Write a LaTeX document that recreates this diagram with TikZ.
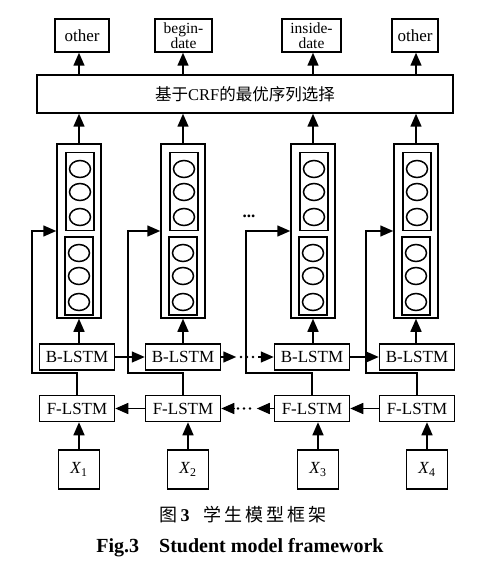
\documentclass[tikz,border=0pt]{standalone}
\usepackage{fontspec}
\setmainfont{Liberation Serif}
\newfontfamily\cjk{Noto Sans CJK SC}
\usetikzlibrary{arrows.meta}

\begin{document}
\begin{tikzpicture}[x=1pt,y=-1pt,
	every node/.style={font=\fontsize{17}{13}\selectfont},
	box/.style={draw,line width=1.5pt,inner sep=0pt,align=center},
	lstmbox/.style={box,minimum width=75pt,minimum height=26pt},
	stackbox/.style={box,minimum width=44pt,minimum height=174pt},
	halfbox/.style={box,minimum width=28pt,minimum height=78pt},
	outbox/.style={box,minimum height=33pt},
	twoline/.style={outbox,font=\fontsize{15.5}{14.5}\selectfont},
	inbox/.style={box,minimum width=41pt,minimum height=39pt},
	ln/.style={line width=1.5pt},
	dotline/.style={line width=2.6pt,line cap=round,dash pattern=on 0pt off 6pt},
	arr/.style={ln,-{Triangle[length=13pt,width=11pt]}}]
		\useasboundingbox (0,0) rectangle (499,572);
		% output labels and the CRF layer
		\node[outbox,minimum width=54pt] (o1) at (82,35.5) {other};
		\node[twoline,minimum width=57pt] (o2) at (183.5,35.5) {begin-\\date};
		\node[twoline,minimum width=59pt] (o3) at (311.5,35.5) {inside-\\date};
		\node[outbox,minimum width=46pt] (o4) at (415,35.5) {other};
		\node[box,minimum width=416pt,minimum height=38pt,font=\fontsize{16.5}{18}\selectfont] (crf) at (245,94) {{\cjk 基于}CRF{\cjk 的最优序列选择}};
		% one column per input
		\foreach \i/\sx/\bx/\xx/\fb in {1/79/77/79/32,2/183/183/188/128,3/313/312/318/246,4/416/417/427/366}{
			\node[stackbox] (s\i) at (\sx,231) {};
			\node[halfbox] (u\i) at (\sx+1,191.5) {};
			\node[halfbox] (l\i) at (\sx,276) {};
			\foreach \cy in {169,192,217} \draw[ln] (\sx+1,\cy) ellipse (10.5 and 8.5);
			\foreach \cy in {253,276,302} \draw[ln] (\sx,\cy) ellipse (10.5 and 8.5);
			\node[lstmbox] (b\i) at (\bx,357) {B-LSTM};
			\node[lstmbox] (f\i) at (\bx,408.5) {F-LSTM};
			\node[inbox] (x\i) at (\xx,469.5) {\textit{X}\textsubscript{\i}};
			\draw[arr] (x\i.north) -- (x\i.north |- f\i.south);
			\draw[arr] (s\i.south |- b\i.north) -- (s\i.south);
			\draw[arr] (s\i.north) -- (s\i.north |- crf.south);
			\draw[arr] (s\i.north |- crf.north) -- (s\i.north |- o\i.south);
			\draw[arr] (f\i.north) -- (\bx,373) -- (\fb,373) -- (\fb,231) -- (s\i.west);
		}
		% recurrent links
		\draw[arr] (b1) -- (b2);
		\draw[arr] (b3) -- (b4);
		\draw[arr] (f2) -- (f1);
		\draw[arr] (f4) -- (f3);
		\draw[arr] (b2.east) -- ++(15,0);
		\draw[dotline] (241,357) -- (254,357);
		\draw[arr] (258,357) -- (b3.west);
		\draw[arr] (f3.west) -- ++(-17,0);
		\draw[dotline] (238,408.5) -- (251,408.5);
		\draw[arr] (235,408.5) -- (f2.east);
		\node[font=\fontsize{17}{13}\selectfont\bfseries] (dots) at (249,216) {...};
		% caption
		\node[font=\fontsize{18}{20}\selectfont] (cap) at (243,515) {{\cjk 图}\,\textbf{3}\hspace{14pt}{\cjk 学\hspace{3pt}生\hspace{3pt}模\hspace{3pt}型\hspace{3pt}框\hspace{3pt}架}};
		\node[font=\fontsize{20}{22}\selectfont\bfseries] (capen) at (240,548) {Fig.3\hspace{20pt}Student model framework};
	    \end{tikzpicture}
\end{document}
